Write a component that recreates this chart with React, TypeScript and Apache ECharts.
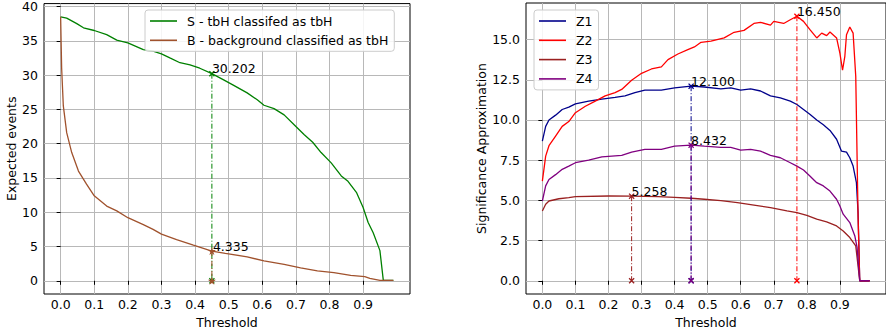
import React, { useEffect, useRef } from "react";
import * as echarts from "echarts";

// ---------- data ----------
const xTicks = [0, 0.1, 0.2, 0.3, 0.4, 0.5, 0.6, 0.7, 0.8, 0.9];
const leftYTicks = [0, 5, 10, 15, 20, 25, 30, 35, 40];
const rightYTicks = [0, 2.5, 5, 7.5, 10, 12.5, 15];

const sName = "S - tbH classifed as tbH";
const bName = "B - background classified as tbH";

const sX = [0, 0.018, 0.048, 0.068, 0.1, 0.137, 0.167, 0.2, 0.246, 0.275, 0.3, 0.325, 0.355, 0.385, 0.414, 0.45, 0.485, 0.515, 0.555, 0.585, 0.605, 0.635, 0.665, 0.7, 0.725, 0.75, 0.775, 0.805, 0.835, 0.855, 0.88, 0.9, 0.915, 0.93, 0.95, 0.96, 0.99];
const sY = [38.5, 38.3, 37.5, 36.9, 36.5, 35.9, 35.1, 34.7, 33.7, 33.5, 33.1, 32.5, 31.8, 31.5, 31.0, 30.202, 29.3, 28.5, 27.4, 26.4, 25.6, 25.1, 24.2, 22.5, 21.3, 20.2, 18.7, 17.2, 15.3, 14.5, 12.9, 10.7, 8.5, 7.0, 4.4, 0.1, 0.05];

const bX = [0, 0.003, 0.008, 0.018, 0.033, 0.053, 0.077, 0.1, 0.137, 0.167, 0.2, 0.246, 0.275, 0.3, 0.345, 0.395, 0.45, 0.49, 0.555, 0.605, 0.665, 0.714, 0.764, 0.813, 0.863, 0.905, 0.92, 0.95, 0.99];
const bY = [38.5, 31.0, 25.5, 21.6, 18.7, 16.0, 14.1, 12.4, 10.9, 10.2, 9.2, 8.2, 7.5, 6.8, 6.0, 5.2, 4.335, 4.0, 3.5, 2.9, 2.4, 1.9, 1.45, 1.2, 0.8, 0.6, 0.35, 0.05, 0.05];

const zX = [0, 0.01, 0.02, 0.04, 0.06, 0.08, 0.1, 0.14, 0.18, 0.22, 0.25, 0.28, 0.31, 0.36, 0.4, 0.45, 0.49, 0.54, 0.57, 0.6, 0.63, 0.66, 0.69, 0.72, 0.75, 0.77, 0.79, 0.81, 0.83, 0.85, 0.87, 0.89, 0.905, 0.92, 0.93, 0.94, 0.95, 0.955, 0.96, 0.99];
const z1Y = [8.68, 9.6, 10.0, 10.3, 10.65, 10.8, 11.0, 11.17, 11.3, 11.4, 11.5, 11.7, 11.85, 11.85, 12.0, 12.1, 12.05, 11.93, 12.0, 11.85, 11.93, 11.8, 11.5, 11.37, 11.17, 10.96, 10.65, 10.34, 10.0, 9.7, 9.35, 8.8, 8.06, 8.0, 7.65, 7.13, 6.1, 4.24, 0, 0];

const z2X = [0, 0.01, 0.02, 0.04, 0.06, 0.08, 0.1, 0.13, 0.16, 0.19, 0.22, 0.24, 0.27, 0.3, 0.33, 0.36, 0.38, 0.41, 0.44, 0.46, 0.48, 0.51, 0.55, 0.58, 0.61, 0.64, 0.66, 0.69, 0.7, 0.73, 0.75, 0.77, 0.79, 0.81, 0.83, 0.845, 0.86, 0.87, 0.89, 0.9, 0.908, 0.915, 0.92, 0.93, 0.94, 0.948, 0.955, 0.96, 0.99];
const z2Y = [6.2, 7.75, 8.4, 9.0, 9.6, 9.9, 10.45, 10.85, 11.17, 11.5, 11.7, 11.9, 12.47, 12.9, 13.17, 13.3, 13.75, 14.1, 14.37, 14.54, 14.83, 14.9, 15.1, 15.45, 15.57, 16.0, 16.07, 15.9, 16.13, 16.0, 16.23, 16.45, 16.13, 15.6, 15.1, 15.4, 15.24, 15.47, 15.1, 14.16, 13.09, 13.96, 15.3, 15.78, 15.4, 12.7, 4.0, 0, 0];

const z3X = [0, 0.01, 0.02, 0.05, 0.08, 0.1, 0.2, 0.27, 0.35, 0.4, 0.45, 0.49, 0.54, 0.59, 0.64, 0.69, 0.74, 0.77, 0.8, 0.83, 0.86, 0.89, 0.91, 0.93, 0.948, 0.96, 0.99];
const z3Y = [4.34, 4.76, 4.96, 5.1, 5.17, 5.23, 5.27, 5.258, 5.23, 5.19, 5.13, 5.07, 4.98, 4.86, 4.71, 4.55, 4.34, 4.24, 4.07, 3.83, 3.66, 3.41, 3.1, 2.69, 2.17, 0, 0];

const z4X = [0, 0.01, 0.02, 0.04, 0.06, 0.08, 0.1, 0.14, 0.18, 0.24, 0.27, 0.31, 0.36, 0.4, 0.45, 0.49, 0.54, 0.57, 0.6, 0.63, 0.66, 0.69, 0.72, 0.75, 0.77, 0.79, 0.81, 0.83, 0.85, 0.87, 0.89, 0.9, 0.91, 0.93, 0.945, 0.952, 0.96, 0.99];
const z4Y = [4.96, 5.9, 6.3, 6.6, 6.93, 7.13, 7.34, 7.5, 7.7, 7.8, 8.0, 8.17, 8.17, 8.37, 8.432, 8.37, 8.3, 8.3, 8.13, 8.17, 8.06, 7.8, 7.65, 7.34, 7.13, 6.89, 6.5, 6.1, 5.9, 5.58, 5.07, 4.65, 4.14, 3.62, 2.8, 2.07, 0, 0];

// optimum markers
const leftMarks = [
  { x: 0.45, y: 30.202, label: "30.202", color: "#008000", sym: "x" },
  { x: 0.45, y: 4.335, label: "4.335", color: "#a0522d", sym: "star" },
];
const rightMarks = [
  { x: 0.27, y: 5.258, label: "5.258", color: "#9a2020", sym: "x" },
  { x: 0.45, y: 12.1, label: "12.100", color: "#00008b", sym: "x" },
  { x: 0.45, y: 8.432, label: "8.432", color: "#800080", sym: "x" },
  { x: 0.77, y: 16.45, label: "16.450", color: "#ff0000", sym: "x" },
];

// ---------- helpers ----------
const X_SYM = "path://M0,1.5L1.5,0L5,3.5L8.5,0L10,1.5L6.5,5L10,8.5L8.5,10L5,6.5L1.5,10L0,8.5L3.5,5Z";
const STAR_SYM = "path://M5,0L6.2,3.6L10,3.6L6.9,5.9L8.1,9.5L5,7.3L1.9,9.5L3.1,5.9L0,3.6L3.8,3.6Z";
const FONT = "DejaVu Sans";
const FS = 12.5;

const pairs = (xs: number[], ys: number[]) => xs.map((x, i) => [x, ys[i]]);

function mainLine(name: string, xs: number[], ys: number[], color: string, idx: number) {
  return {
    name,
    type: "line",
    xAxisIndex: idx,
    yAxisIndex: idx,
    data: pairs(xs, ys),
    symbol: "none",
    lineStyle: { color, width: 1.3 },
    itemStyle: { color },
    z: 3,
  };
}

function markLine(m: any, idx: number) {
  return {
    type: "line",
    xAxisIndex: idx,
    yAxisIndex: idx,
    data: [
      {
        value: [m.x, m.y],
        label: {
          show: true,
          formatter: m.label,
          position: "right",
          distance: 0,
          offset: [-3, -5],
          color: "#000",
          fontFamily: FONT,
          fontSize: FS,
        },
      },
      [m.x, 0],
    ],
    symbol: m.sym === "star" ? STAR_SYM : X_SYM,
    symbolSize: m.sym === "star" ? 8 : 6,
    lineStyle: { color: m.color, width: 1, type: [5, 2, 1, 2] },
    itemStyle: { color: m.color },
    silent: true,
    z: 4,
  };
}

function xAxis(idx: number) {
  return {
    type: "value",
    gridIndex: idx,
    min: -0.0495,
    max: 1.0395,
    name: "Threshold",
    nameLocation: "middle",
    nameGap: 20,
    nameTextStyle: { color: "#000", fontFamily: FONT, fontSize: FS },
    axisLine: { show: false },
    axisTick: { show: true, length: 4, lineStyle: { color: "#000" }, customValues: xTicks },
    axisLabel: {
      margin: 4,
      color: "#000",
      fontFamily: FONT,
      fontSize: FS,
      customValues: xTicks,
      formatter: (v: number) => v.toFixed(1),
    },
    splitLine: { show: true, lineStyle: { color: "#b8b8b8", width: 1 } },
  };
}

function yAxis(idx: number, min: number, max: number, ticks: number[], name: string, gap: number, fmt: (v: number) => string) {
  return {
    type: "value",
    gridIndex: idx,
    min,
    max,
    name,
    nameLocation: "middle",
    nameGap: gap,
    nameTextStyle: { color: "#000", fontFamily: FONT, fontSize: FS },
    axisLine: { show: false },
    axisTick: { show: true, length: 4, lineStyle: { color: "#000" }, customValues: ticks },
    axisLabel: { margin: 6, color: "#000", fontFamily: FONT, fontSize: FS, customValues: ticks, formatter: fmt },
    splitLine: { show: true, lineStyle: { color: "#b8b8b8", width: 1 } },
  };
}

const legendCommon = {
  orient: "vertical",
  icon: "rect",
  itemWidth: 27,
  itemHeight: 1.6,
  itemGap: 5.3,
  padding: [4, 6, 4, 5],
  backgroundColor: "rgba(255,255,255,0.85)",
  borderColor: "#cccccc",
  borderWidth: 1,
  borderRadius: 3,
  textStyle: { color: "#000", fontFamily: FONT, fontSize: FS, lineHeight: 14, padding: [0, 0, 0, 5] },
};

export default function App() {
  const ref = useRef<HTMLDivElement>(null);
  useEffect(() => {
    if (!ref.current) return;
    const chart = echarts.init(ref.current, undefined, { renderer: "svg" });
    chart.setOption({
      animation: false,
      backgroundColor: "#fff",
      grid: [
        { left: 44, top: 3, width: 366, height: 291, show: true, borderColor: "#000", borderWidth: 1, backgroundColor: "transparent" },
        { left: 526, top: 3, width: 367, height: 291, show: true, borderColor: "#000", borderWidth: 1, backgroundColor: "transparent" },
      ],
      xAxis: [xAxis(0), xAxis(1)],
      yAxis: [
        yAxis(0, -1.925, 40.425, leftYTicks, "Expected events", 24, (v: number) => String(v)),
        yAxis(1, -0.8225, 17.2725, rightYTicks, "Significance Approximation", 37, (v: number) => v.toFixed(1)),
      ],
      legend: [
        { ...legendCommon, left: 145, top: 10, data: [sName, bName] },
        { ...legendCommon, left: 534, top: 10, data: ["Z1", "Z2", "Z3", "Z4"] },
      ],
      series: [
        mainLine(sName, sX, sY, "#008000", 0),
        mainLine(bName, bX, bY, "#a0522d", 0),
        ...leftMarks.map((m) => markLine(m, 0)),
        mainLine("Z1", zX, z1Y, "#00008b", 1),
        mainLine("Z2", z2X, z2Y, "#ff0000", 1),
        mainLine("Z3", z3X, z3Y, "#9a2020", 1),
        mainLine("Z4", z4X, z4Y, "#800080", 1),
        ...rightMarks.map((m) => markLine(m, 1)),
      ],
    });
    return () => chart.dispose();
  }, []);
  return (
    <div
      ref={ref}
      style={{ position: "fixed", left: 0, top: 0, width: 886, height: 334 }}
    />
  );
}
